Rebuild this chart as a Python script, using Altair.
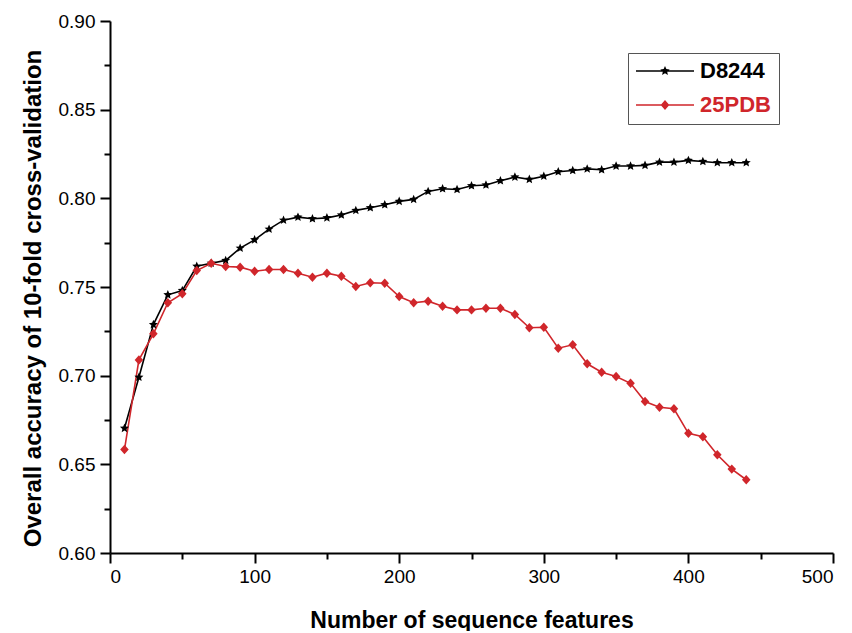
import math
import altair as alt
import pandas as pd

# ---------------- data ----------------
features = [10, 20, 30, 40, 50, 60, 70, 80, 90, 100,
            110, 120, 130, 140, 150, 160, 170, 180, 190, 200,
            210, 220, 230, 240, 250, 260, 270, 280, 290, 300,
            310, 320, 330, 340, 350, 360, 370, 380, 390, 400,
            410, 420, 430, 440]

d8244 = [0.6703, 0.6991, 0.7288, 0.7456, 0.7480, 0.7617, 0.7634, 0.7650, 0.7719, 0.7766,
         0.7826, 0.7877, 0.7894, 0.7885, 0.7890, 0.7906, 0.7932, 0.7947, 0.7964, 0.7983,
         0.7994, 0.8039, 0.8054, 0.8050, 0.8071, 0.8075, 0.8099, 0.8120, 0.8107, 0.8125,
         0.8150, 0.8157, 0.8166, 0.8161, 0.8182, 0.8182, 0.8186, 0.8204, 0.8204, 0.8214,
         0.8208, 0.8201, 0.8201, 0.8201]

pdb25 = [0.6583, 0.7089, 0.7236, 0.7411, 0.7462, 0.7593, 0.7634, 0.7616, 0.7612, 0.7589,
         0.7599, 0.7599, 0.7578, 0.7555, 0.7578, 0.7561, 0.7503, 0.7524, 0.7521, 0.7446,
         0.7411, 0.7420, 0.7392, 0.7371, 0.7371, 0.7380, 0.7380, 0.7345, 0.7270, 0.7273,
         0.7155, 0.7174, 0.7067, 0.7019, 0.6995, 0.6957, 0.6854, 0.6822, 0.6813, 0.6675,
         0.6656, 0.6554, 0.6473, 0.6413]

series_names = ["D8244", "25PDB"]
series_colors = ["#000000", "#d0262b"]

x_major = [0, 100, 200, 300, 400, 500]
x_minor = [50, 150, 250, 350, 450]
y_major = [0.60, 0.65, 0.70, 0.75, 0.80, 0.85, 0.90]
y_minor = [0.625, 0.675, 0.725, 0.775, 0.825, 0.875]

x_title = "Number of sequence features"
y_title = "Overall accuracy of 10-fold cross-validation"

rows = []
for name, vals in zip(series_names, [d8244, pdb25]):
    for f, v in zip(features, vals):
        rows.append({"features": f, "accuracy": v, "series": name})
df = pd.DataFrame(rows)
df_series = pd.DataFrame({"series": series_names})

# ---------------- marker shapes as SVG paths (unit coordinates) ----------------
def star_path(r_out, r_in):
    pts = []
    for i in range(10):
        r = r_out if i % 2 == 0 else r_in
        a = -math.pi / 2 + i * math.pi / 5
        pts.append((r * math.cos(a), r * math.sin(a)))
    return "M" + "L".join(f"{x:.3f},{y:.3f}" for x, y in pts) + "Z"

def diamond_path(rx, ry):
    return f"M0,{-ry}L{rx},0L0,{ry}L{-rx},0Z"

marker_paths = [star_path(1.0, 0.46), diamond_path(0.9, 1.0)]

line_part = "M-1,-0.026L1,-0.026L1,0.026L-1,0.026Z"
legend_paths = [line_part + star_path(0.17, 0.08),
                line_part + diamond_path(0.15, 0.17)]

lab_expr = f"datum.value == '{series_names[0]}' ? '{series_colors[0]}' : '{series_colors[1]}'"

FONT = "Liberation Sans"

x_scale = alt.Scale(domain=[0, 500], nice=False, zero=False)
y_scale = alt.Scale(domain=[0.60, 0.90], nice=False, zero=False)
color_scale = alt.Scale(domain=series_names, range=series_colors)

x_major_axis = alt.Axis(
    values=x_major, orient="bottom", grid=False, tickSize=10, tickWidth=2,
    tickColor="black", domainColor="black", domainWidth=2,
    labelFontSize=19, labelFont=FONT, labelColor="black", labelPadding=4,
    title=x_title, titleFont=FONT, titleFontSize=23, titleFontWeight="bold",
    titleColor="black", titleY=67, titleBaseline="middle",
)
y_major_axis = alt.Axis(
    values=y_major, orient="left", format=".2f", grid=False, tickSize=10, tickWidth=2,
    tickColor="black", domainColor="black", domainWidth=2,
    labelFontSize=19, labelFont=FONT, labelColor="black", labelPadding=5,
    title=y_title, titleFont=FONT, titleFontSize=24, titleFontWeight="bold",
    titleColor="black", titleX=-77, titleY=277, titleAngle=-90,
    titleBaseline="middle", titleAlign="center",
)
x_minor_axis = alt.Axis(values=x_minor, orient="bottom", grid=False, labels=False,
                        domain=False, tickSize=6, tickWidth=2, tickColor="black", title=None)
y_minor_axis = alt.Axis(values=y_minor, orient="left", grid=False, labels=False,
                        domain=False, tickSize=6, tickWidth=2, tickColor="black", title=None)

legend = alt.Legend(
    title=None, orient="none", legendX=518, legendY=32,
    symbolSize=3364, symbolStrokeWidth=0, symbolOpacity=1,
    symbolFillColor={"expr": lab_expr},
    clipHeight=20, rowPadding=12, labelOffset=6,
    labelFont=FONT, labelFontSize=22, labelFontWeight="bold",
    labelColor={"expr": lab_expr},
    strokeColor="#555555", fillColor="white", padding=8,
)

lines = alt.Chart(df).mark_line(strokeWidth=1.6).encode(
    x=alt.X("features:Q", scale=x_scale, axis=x_major_axis),
    y=alt.Y("accuracy:Q", scale=y_scale, axis=y_major_axis),
    color=alt.Color("series:N", scale=color_scale, legend=None),
)

points = alt.Chart(df).mark_point(filled=True, opacity=1, size=90, strokeWidth=0).encode(
    x=alt.X("features:Q", scale=x_scale, axis=x_minor_axis),
    y=alt.Y("accuracy:Q", scale=y_scale, axis=y_minor_axis),
    color=alt.Color("series:N", scale=color_scale, legend=None),
    shape=alt.Shape("series:N", scale=alt.Scale(domain=series_names, range=marker_paths), legend=None),
)

legend_layer = alt.Chart(df_series).transform_filter("false").mark_point(filled=True).encode(
    color=alt.Color("series:N", scale=color_scale, legend=None),
    shape=alt.Shape("series:N", scale=alt.Scale(domain=series_names, range=legend_paths), legend=legend),
)

chart = alt.layer(lines, points, legend_layer).resolve_axis(
    x="independent", y="independent"
).resolve_scale(shape="independent").properties(
    width=723, height=532,
    autosize=alt.AutoSizeParams(type="none"),
    padding={"left": 102, "top": 13, "right": 11, "bottom": 78},
).configure_view(stroke=None)

chart.save("out.html", embed_options={"renderer": "svg", "actions": False})
